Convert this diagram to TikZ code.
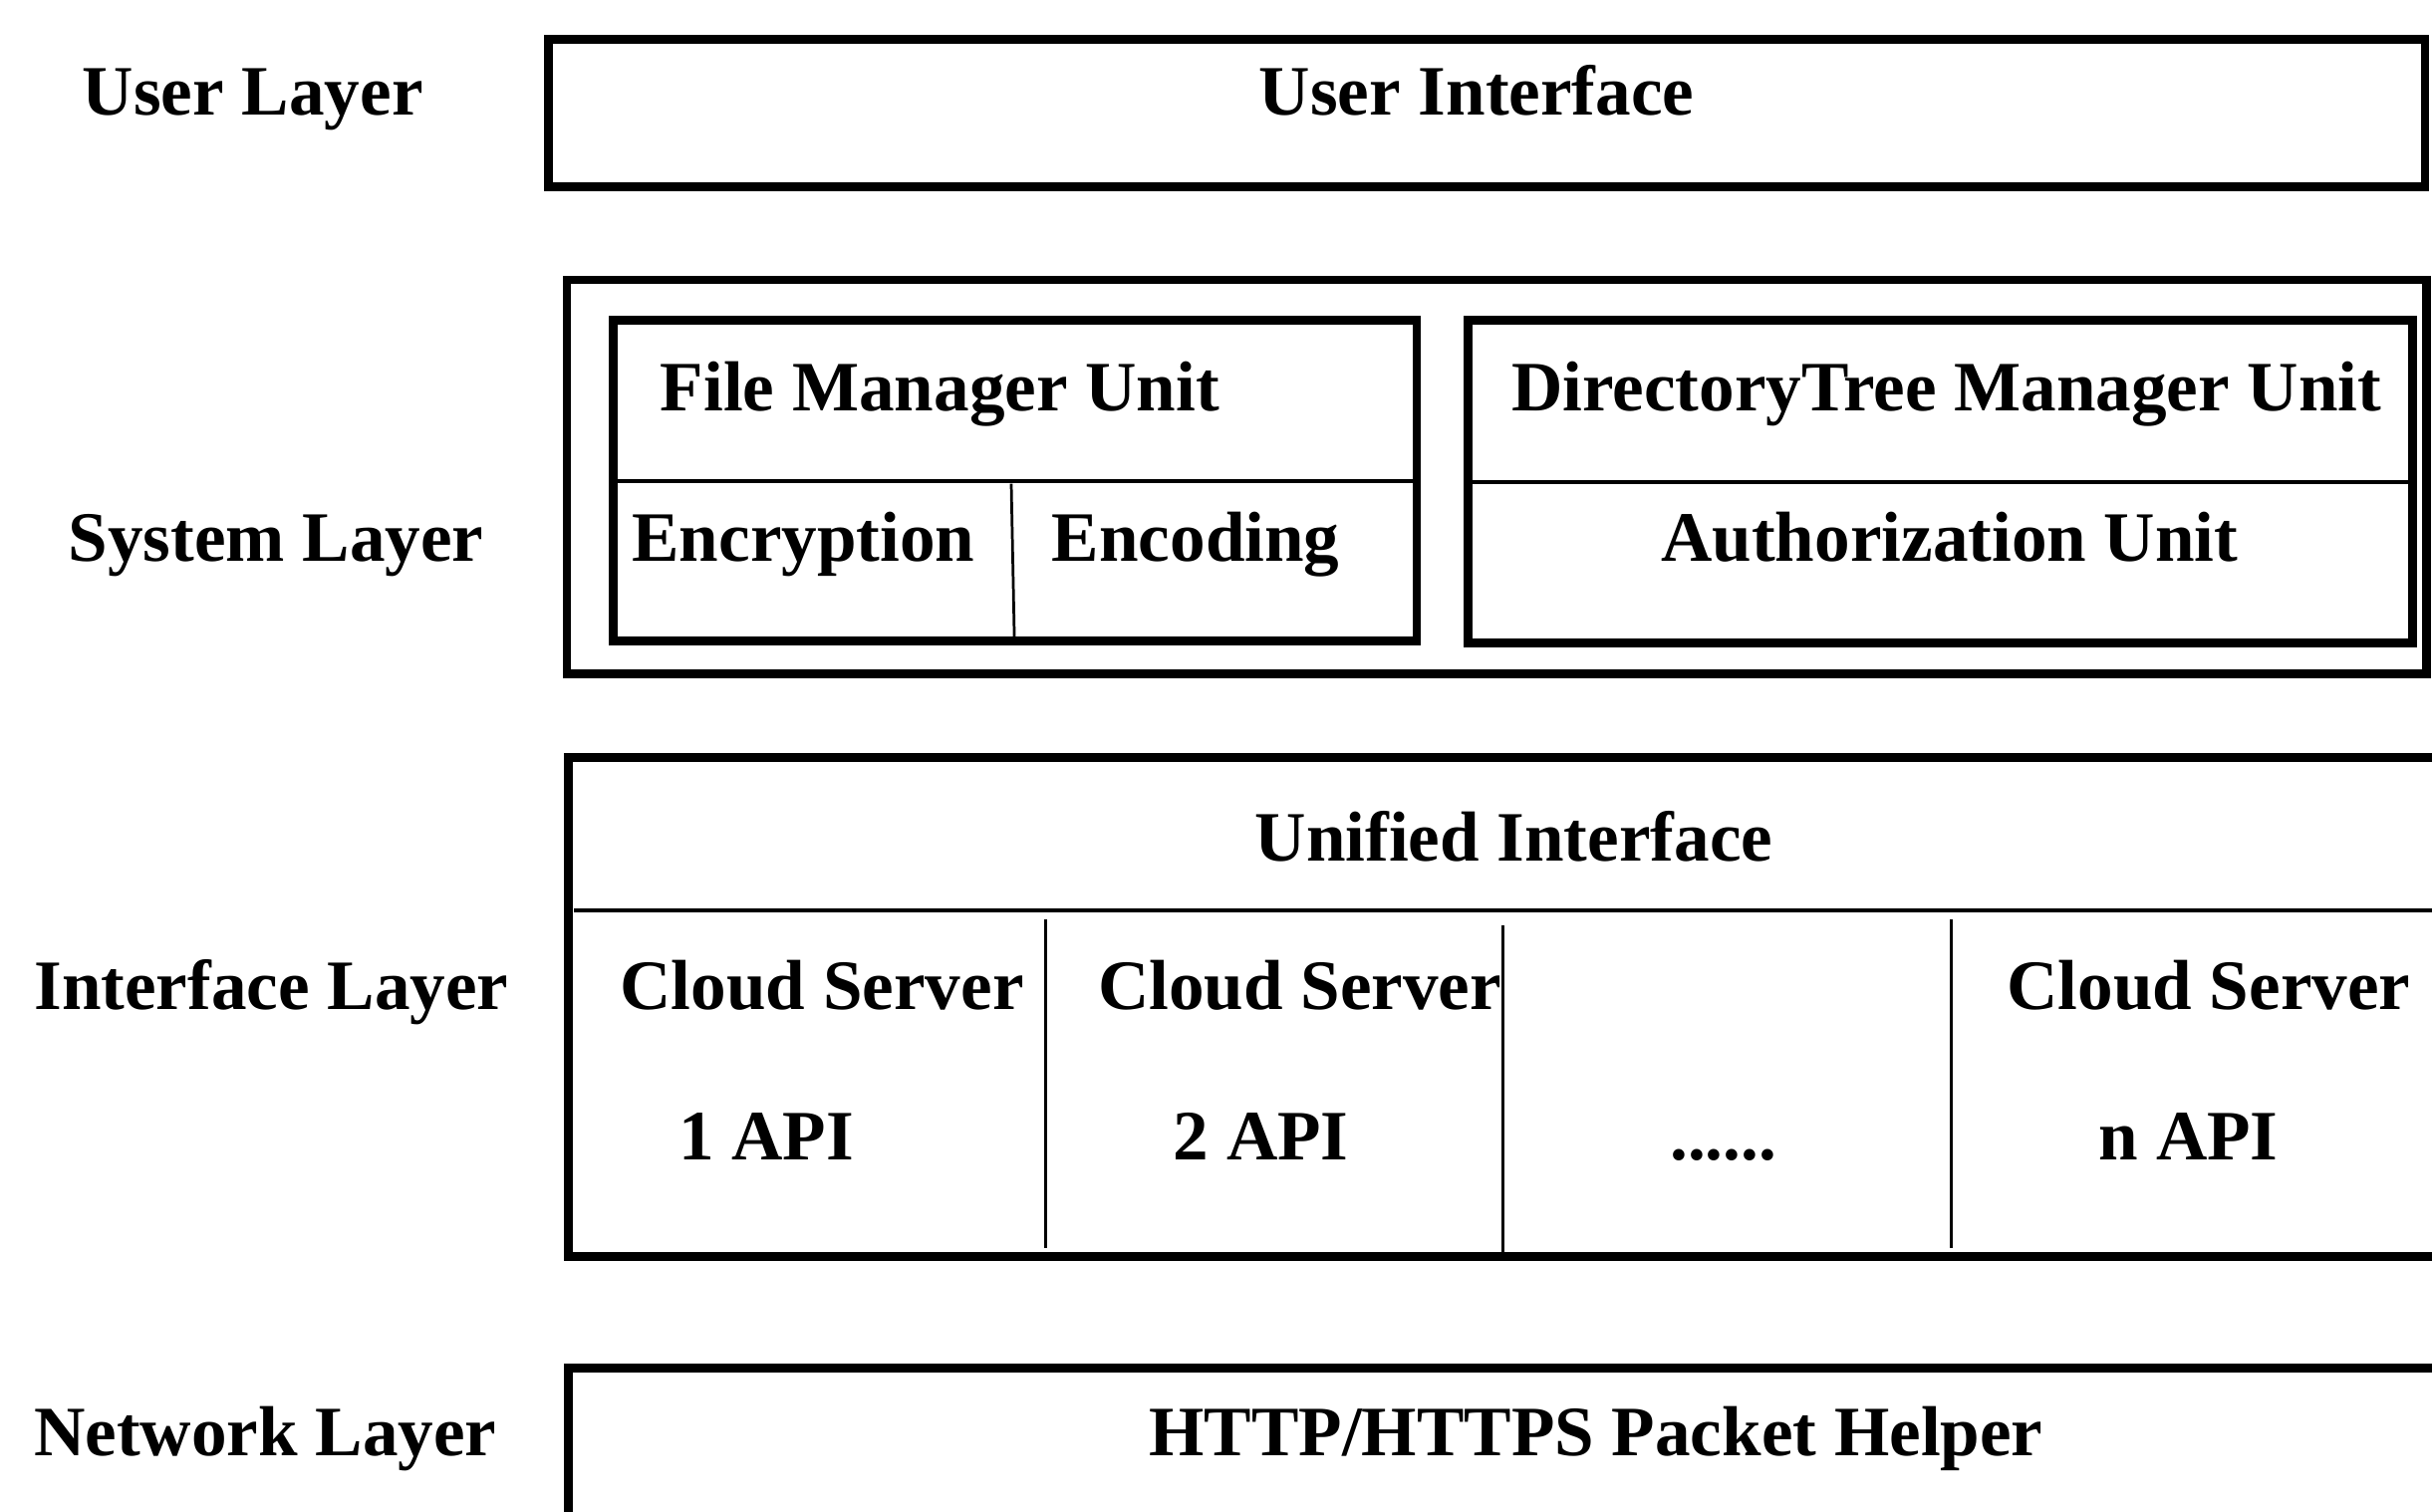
\documentclass[tikz,border=0pt]{standalone}
\usepackage{fontspec}
\setmainfont{Liberation Serif}
\usepackage{tikz}

\begin{document}
\begin{tikzpicture}[
    x=0.1mm, y=-0.1mm,
    font=\fontsize{13pt}{15pt}\selectfont\bfseries,
    box/.style={
        rectangle, draw, line width=1.6pt,
        anchor=north west, inner sep=0pt, outer sep=0pt
    },
    txt/.style={anchor=base, inner sep=0pt},
    divider/.style={line width=0.75pt},
    colline/.style={line width=0.5pt},
]

\useasboundingbox (0,0) rectangle (1568,975);
\clip (0,0) rectangle (1568,975);

% ── Layer names ──────
\node[txt] (userlbl) at (163,74) {User Layer};
\node[txt] (syslbl) at (178,362) {System Layer};
\node[txt] (iflbl) at (175,651) {Interface Layer};
\node[txt] (netlbl) at (171,939) {Network Layer};

% ── User layer ──────
\node[box, minimum width=121.0mm, minimum height=9.5mm] (userbox) at (353.5,25.5) {};
\node[txt] (ui) at (952,74) {User Interface};

% ── System layer ──────
\node[box, minimum width=119.9mm, minimum height=25.4mm] (sysbox) at (365.5,180.5) {};
\node[box, minimum width=51.8mm, minimum height=20.7mm] (filebox) at (395.5,206.5) {};
\node[box, minimum width=60.9mm, minimum height=20.8mm] (dirbox) at (946.5,206.5) {};

\coordinate (fmsplit) at (0,310);
\coordinate (dtsplit) at (0,311);
\draw[divider] (filebox.west |- fmsplit) -- (filebox.east |- fmsplit);
\draw[divider] (dirbox.west |- dtsplit) -- (dirbox.east |- dtsplit);
\coordinate (enctop) at (652,312);
\coordinate (encbot) at (654,412);
\draw[colline] (enctop) -- (encbot);

\node[txt] (fmu) at (606,265) {File Manager Unit};
\node[txt] (enc) at (518,362) {Encryption};
\node[txt] (cod) at (771,362) {Encoding};
\node[txt] (dtmu) at (1255,265) {DirectoryTree Manager Unit};
\node[txt] (auth) at (1257,362) {Authorization Unit};

% ── Interface layer ──────
\node[box, minimum width=140mm, minimum height=32.2mm] (ifbox) at (366.5,488.5) {};
\coordinate (unisplit) at (370,587);
\draw[divider] (unisplit) -- (unisplit -| ifbox.east);
\foreach \x/\a/\b in {674/593/805, 969/597/808, 1258/593/805}
    \draw[colline] (\x,\a) -- (\x,\b);

\node[txt] (uni) at (976,555) {Unified Interface};
\node[txt] (cs1) at (530,651) {Cloud Server};
\node[txt] (api1) at (494,748) {1 API};
\node[txt] (cs2) at (838,651) {Cloud Server};
\node[txt] (api2) at (813,748) {2 API};
\node[txt] (dots) at (1111,748) {......};
\node[txt] (csn) at (1424,651) {Cloud Server};
\node[txt] (apin) at (1411,748) {n API};

% ── Network layer ──────
\node[box, minimum width=140mm, minimum height=30mm] (netbox) at (366.5,882.5) {};
\node[txt] (http) at (1029,939) {HTTP/HTTPS Packet Helper};

\end{tikzpicture}
\end{document}
